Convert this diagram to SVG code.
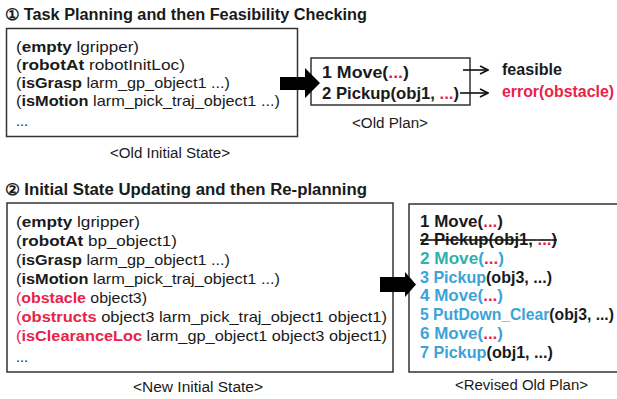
<svg xmlns="http://www.w3.org/2000/svg" width="617" height="399" viewBox="0 0 617 399">
<style>
text{font-family:"Liberation Sans",Arial,sans-serif;fill:#1a1a1a}
.t{font-size:16px;font-weight:bold}
.b{font-size:14.5px}
.p{font-size:16.5px;font-weight:bold}
.cap{font-size:14px}
.k{font-weight:bold}
.r{fill:#e8234a}
.c{fill:#3ba3da}
.g{fill:#2fb0ad}
.box{fill:#fff;stroke:#333;stroke-width:1.5}
.thin{stroke:#111;stroke-width:1.6;fill:none}
</style>
<defs>
<marker id="open" markerWidth="10" markerHeight="10" refX="9" refY="5" orient="auto" markerUnits="userSpaceOnUse">
<path d="M1,1 L9,5 L1,9" fill="none" stroke="#111" stroke-width="1.6"/>
</marker>
</defs>
<rect width="617" height="399" fill="#fff"/>
<text class="t" x="5" y="20" textLength="362" lengthAdjust="spacingAndGlyphs">① Task Planning and then Feasibility Checking</text>
<text class="t" x="5" y="195" textLength="362" lengthAdjust="spacingAndGlyphs">② Initial State Updating and then Re-planning</text>

<g id="old-initial-state">
<rect class="box" x="6.5" y="28.5" width="291" height="108"/>
<text class="b" x="16" y="52" textLength="123" lengthAdjust="spacingAndGlyphs">(<tspan class="k">empty</tspan> lgripper)</text>
<text class="b" x="16" y="70" textLength="169" lengthAdjust="spacingAndGlyphs">(<tspan class="k">robotAt</tspan> robotInitLoc)</text>
<text class="b" x="16" y="88" textLength="214" lengthAdjust="spacingAndGlyphs">(<tspan class="k">isGrasp</tspan> larm_gp_object1 ...)</text>
<text class="b" x="16" y="106" textLength="264" lengthAdjust="spacingAndGlyphs">(<tspan class="k">isMotion</tspan> larm_pick_traj_object1 ...)</text>
<text class="b" x="16" y="126">...</text>
<text class="cap" x="110" y="158" textLength="120" lengthAdjust="spacingAndGlyphs">&lt;Old Initial State&gt;</text>
</g>

<g id="old-plan">
<rect class="box" x="311" y="58" width="159" height="47"/>
<text class="p" x="322" y="78" textLength="87" lengthAdjust="spacingAndGlyphs">1 Move(<tspan class="r">...</tspan>)</text>
<text class="p" x="322" y="99" textLength="137" lengthAdjust="spacingAndGlyphs">2 Pickup(obj1, <tspan class="r">...</tspan>)</text>
<text class="cap" x="352" y="128" textLength="76" lengthAdjust="spacingAndGlyphs">&lt;Old Plan&gt;</text>
</g>

<g id="feasible">
<text class="p" x="502" y="75" textLength="60" lengthAdjust="spacingAndGlyphs">feasible</text>
</g>
<g id="error">
<text class="p r" x="502" y="97" textLength="112" lengthAdjust="spacingAndGlyphs">error(obstacle)</text>
</g>

<g id="new-initial-state">
<rect class="box" x="7" y="203" width="386" height="169"/>
<text class="b" x="16" y="227" textLength="124" lengthAdjust="spacingAndGlyphs">(<tspan class="k">empty</tspan> lgripper)</text>
<text class="b" x="16" y="246" textLength="161" lengthAdjust="spacingAndGlyphs">(<tspan class="k">robotAt</tspan> bp_object1)</text>
<text class="b" x="16" y="265" textLength="214" lengthAdjust="spacingAndGlyphs">(<tspan class="k">isGrasp</tspan> larm_gp_object1 ...)</text>
<text class="b" x="16" y="284" textLength="264" lengthAdjust="spacingAndGlyphs">(<tspan class="k">isMotion</tspan> larm_pick_traj_object1 ...)</text>
<text class="b" x="16" y="303" textLength="131" lengthAdjust="spacingAndGlyphs"><tspan class="r">(</tspan><tspan class="k r">obstacle</tspan> object3)</text>
<text class="b" x="16" y="322" textLength="371" lengthAdjust="spacingAndGlyphs"><tspan class="r">(</tspan><tspan class="k r">obstructs</tspan> object3 larm_pick_traj_object1 object1)</text>
<text class="b" x="16" y="341" textLength="371" lengthAdjust="spacingAndGlyphs"><tspan class="r">(</tspan><tspan class="k r">isClearanceLoc</tspan> larm_gp_object1 object3 object1)</text>
<text class="b" x="16" y="362">...</text>
<text class="cap" x="133" y="392" textLength="130" lengthAdjust="spacingAndGlyphs">&lt;New Initial State&gt;</text>
</g>

<g id="revised-old-plan">
<rect class="box" x="409" y="204" width="220" height="168"/>
<text class="p" x="420" y="227" textLength="83" lengthAdjust="spacingAndGlyphs">1 Move(<tspan class="r">...</tspan>)</text>
<text class="p" x="420" y="245" textLength="137" lengthAdjust="spacingAndGlyphs" text-decoration="line-through">2 Pickup(obj1, <tspan class="r">...</tspan>)</text>
<text class="p" x="420" y="264" textLength="84" lengthAdjust="spacingAndGlyphs"><tspan class="g">2 Move</tspan><tspan class="c">(</tspan><tspan class="r">...</tspan><tspan class="c">)</tspan></text>
<text class="p" x="420" y="283" textLength="132" lengthAdjust="spacingAndGlyphs"><tspan class="c">3 Pickup</tspan>(obj3, ...)</text>
<text class="p" x="420" y="301" textLength="83" lengthAdjust="spacingAndGlyphs"><tspan class="c">4 Move(</tspan><tspan class="r">...</tspan><tspan class="c">)</tspan></text>
<text class="p" x="420" y="320" textLength="194" lengthAdjust="spacingAndGlyphs"><tspan class="c">5 PutDown_Clear</tspan>(obj3, ...)</text>
<text class="p" x="420" y="339" textLength="83" lengthAdjust="spacingAndGlyphs"><tspan class="c">6 Move(</tspan><tspan class="r">...</tspan><tspan class="c">)</tspan></text>
<text class="p" x="420" y="358" textLength="133" lengthAdjust="spacingAndGlyphs"><tspan class="c">7 Pickup</tspan>(obj1, ...)</text>
<text class="cap" x="455" y="390" textLength="133" lengthAdjust="spacingAndGlyphs">&lt;Revised Old Plan&gt;</text>
</g>

<g id="connectors">
<polygon points="280,77 305,77 305,68 320,83 305,98 305,90 280,90" fill="#000"/>
<line class="thin" x1="463" y1="70" x2="488" y2="70" marker-end="url(#open)"/>
<line class="thin" x1="460" y1="93" x2="488" y2="93" marker-end="url(#open)"/>
<polygon points="380,277 405,277 405,272 416,284.5 405,297 405,292 380,292" fill="#000"/>
</g>
</svg>
